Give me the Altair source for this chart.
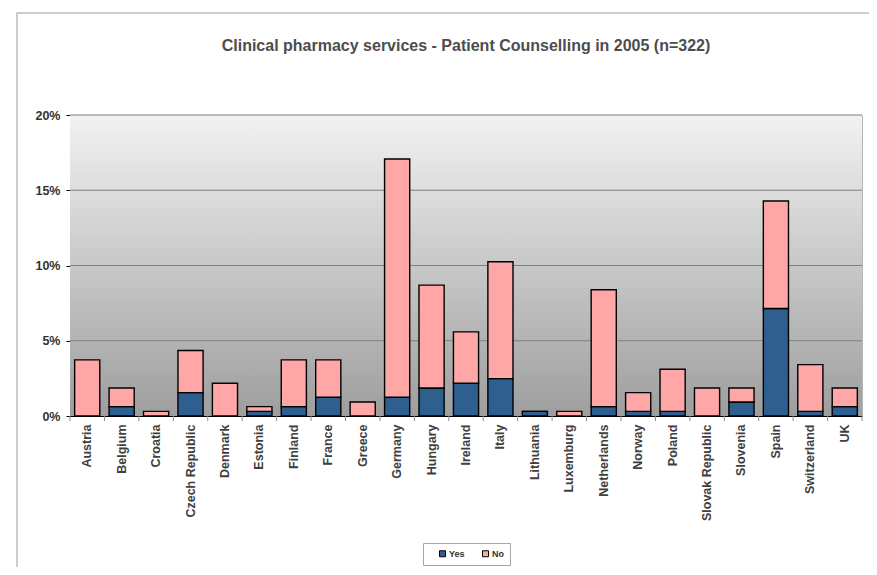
import altair as alt
import pandas as pd

countries = ["Austria", "Belgium", "Croatia", "Czech Republic", "Denmark", "Estonia",
             "Finland", "France", "Greece", "Germany", "Hungary", "Ireland", "Italy",
             "Lithuania", "Luxemburg", "Netherlands", "Norway", "Poland",
             "Slovak Republic", "Slovenia", "Spain", "Switzerland", "UK"]
yes_counts = [0, 2, 0, 5, 0, 1, 2, 4, 0, 4, 6, 7, 8, 1, 0, 2, 1, 1, 0, 3, 23, 1, 2]
no_counts = [12, 4, 1, 9, 7, 1, 10, 8, 3, 51, 22, 11, 25, 0, 1, 25, 4, 9, 6, 3, 23, 10, 4]
n_total = 322
answers = ["Yes", "No"]
answer_colors = ["#2f5f8f", "#ffa6a6"]
y_ticks = [0, 0.05, 0.10, 0.15, 0.20]
grid_values = [0.05, 0.10, 0.15, 0.20]

rows = []
for c, yv, nv in zip(countries, yes_counts, no_counts):
    rows.append({"country": c, "answer": "Yes", "share": yv / n_total, "ord": 0})
    rows.append({"country": c, "answer": "No", "share": nv / n_total, "ord": 1})
df = pd.DataFrame(rows)

W, H = 792, 301
STEP = W / len(countries)
FONT = "Liberation Sans"

xscale = alt.Scale(paddingInner=0.27, paddingOuter=0.135)
yscale = alt.Scale(domain=[0, 0.2], nice=False)
xaxis = alt.Axis(title=None, ticks=False, labelAngle=-90)
yaxis = alt.Axis(title=None, values=y_ticks, format=".0%", grid=False)

one = pd.DataFrame({"k": [0]})

frame = alt.Chart(one).mark_rect(filled=False, stroke="#bdbdbd", strokeWidth=1.5).encode(
    x=alt.value(-53), x2=alt.value(900), y=alt.value(-102), y2=alt.value(700))

bg = alt.Chart(one).mark_rect(
    fill=alt.Gradient(gradient="linear",
                      stops=[alt.GradientStop(color="#f2f2f2", offset=0),
                             alt.GradientStop(color="#9e9e9e", offset=1)],
                      x1=0, x2=0, y1=0, y2=1)
).encode(x=alt.value(0), x2=alt.value(W), y=alt.value(0), y2=alt.value(H))

grid = alt.Chart(pd.DataFrame({"share": grid_values})).mark_rule(color="#7f7f7f", strokeWidth=1).encode(
    y=alt.Y("share:Q", scale=yscale, axis=yaxis))

bars = alt.Chart(df).mark_bar(stroke="black", strokeWidth=1.4).encode(
    x=alt.X("country:N", sort=countries, scale=xscale, axis=xaxis),
    y=alt.Y("share:Q", stack="zero", scale=yscale, axis=yaxis),
    color=alt.Color("answer:N", scale=alt.Scale(domain=answers, range=answer_colors),
                    legend=alt.Legend(title=None, orient="none", legendX=353, legendY=428,
                                      direction="horizontal")),
    order=alt.Order("ord:Q"),
)

ticks = alt.Chart(pd.DataFrame({"country": countries})).mark_rule(
    color="#8a8a8a", xOffset=-STEP / 2).encode(
    x=alt.X("country:N", sort=countries, scale=xscale, axis=xaxis),
    y=alt.value(H), y2=alt.value(H + 5))

last_tick = alt.Chart(one).mark_rule(color="#8a8a8a").encode(
    x=alt.value(W), y=alt.value(H), y2=alt.value(H + 5))

chart = alt.layer(frame, bg, grid, bars, ticks, last_tick).properties(
    width=W, height=H,
    autosize="none",
    padding={"left": 62, "top": 107, "right": 7, "bottom": 151},
    title="Clinical pharmacy services - Patient Counselling in 2005 (n=322)",
).configure_view(
    stroke="#b4b4b4", strokeWidth=1
).configure_title(
    font=FONT, fontSize=16, fontWeight="bold", color="#4d4d4d", anchor="middle",
    frame="group", offset=-42
).configure_axis(
    zindex=1, labelFont=FONT, labelFontWeight="bold", labelFontSize=12.5,
    domainColor="black", domainWidth=1,
).configure_axisX(
    labelColor="#404040", labelPadding=8,
).configure_axisY(
    labelColor="#333333", tickColor="black", tickSize=4, labelPadding=6,
).configure_legend(
    strokeColor="#a6a6a6", fillColor="white", padding=6, symbolType="square",
    symbolSize=36, symbolStrokeColor="black", symbolStrokeWidth=1, symbolOffset=9,
    labelFont=FONT, labelFontSize=9, labelFontWeight="bold", labelColor="#333333",
    columnPadding=7, labelOffset=2,
)

chart.save("out.html", embed_options={"renderer": "svg", "actions": False})
